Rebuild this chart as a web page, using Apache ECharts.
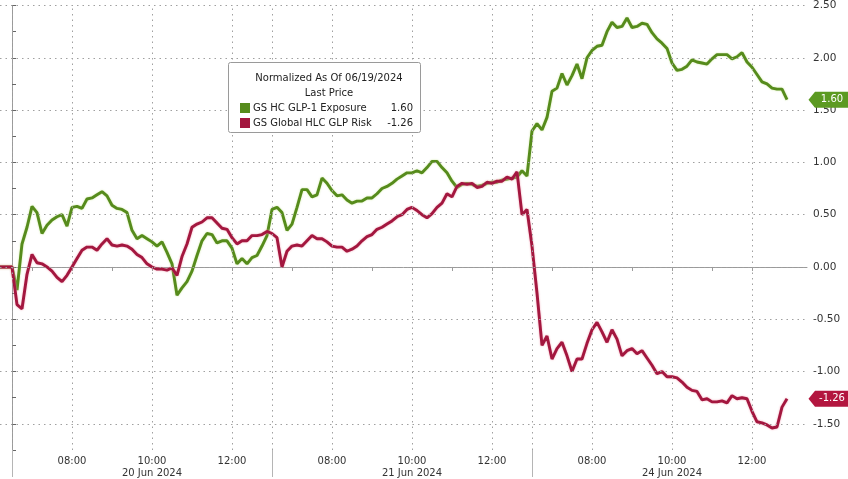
<!DOCTYPE html>
<html><head><meta charset="utf-8">
<script src="https://cdn.jsdelivr.net/npm/echarts@6/dist/echarts.min.js"></script>
<style>html,body{margin:0;padding:0;background:#fff}#c{width:848px;height:479px}</style>
</head><body><div id="c"></div>
<script>
// ---- data (7.5-minute samples from each session open) ----
const dayLabels = ['20 Jun 2024', '21 Jun 2024', '24 Jun 2024'];
const timeLabels = ['08:00', '10:00', '12:00'];
const timeOffsets = [1.5, 3.5, 5.5];          // hours after 06:30 open
const sessionHours = 6.5;
const stepHours = 0.125;
const seriesNames = ['GS HC GLP-1 Exposure', 'GS Global HLC GLP Risk'];
const lastPrices = [1.60, -1.26];

const greenPre = [0, 0, 0];
const greenDay1 = [0, -0.22, 0.22, 0.38, 0.58, 0.52, 0.32, 0.40, 0.45, 0.48,
  0.50, 0.39, 0.57, 0.58, 0.56, 0.65, 0.66, 0.69, 0.72, 0.68,
  0.59, 0.56, 0.55, 0.52, 0.35, 0.27, 0.30, 0.27, 0.24, 0.20,
  0.24, 0.14, 0.03, -0.27, -0.20, -0.14, -0.04, 0.11, 0.25, 0.32,
  0.31, 0.23, 0.25, 0.25, 0.18, 0.03, 0.08, 0.03, 0.09, 0.11,
  0.20, 0.30];
const greenDay2 = [0.55, 0.57, 0.52, 0.35, 0.41, 0.57, 0.74, 0.74, 0.67, 0.69,
  0.85, 0.80, 0.73, 0.68, 0.69, 0.64, 0.61, 0.63, 0.63, 0.66,
  0.66, 0.70, 0.75, 0.77, 0.80, 0.84, 0.87, 0.90, 0.90, 0.92,
  0.90, 0.95, 1.01, 1.01, 0.95, 0.90, 0.82, 0.76, 0.79, 0.80,
  0.79, 0.77, 0.78, 0.80, 0.81, 0.81, 0.83, 0.84, 0.85, 0.86,
  0.92, 0.87];
const greenDay3 = [1.30, 1.37, 1.31, 1.43, 1.68, 1.71, 1.85, 1.74, 1.83, 1.94,
  1.80, 2.00, 2.07, 2.11, 2.12, 2.25, 2.34, 2.29, 2.30, 2.38,
  2.29, 2.30, 2.33, 2.32, 2.24, 2.18, 2.14, 2.09, 1.95, 1.88,
  1.89, 1.92, 1.98, 1.96, 1.95, 1.94, 1.99, 2.03, 2.03, 2.03,
  1.99, 2.01, 2.05, 1.96, 1.91, 1.84, 1.77, 1.75, 1.71, 1.70,
  1.70, 1.60];

const redPre = [0, 0, 0];
const redDay1 = [0, -0.36, -0.40, -0.07, 0.12, 0.04, 0.03, 0.00, -0.04, -0.10,
  -0.14, -0.08, 0.00, 0.08, 0.16, 0.19, 0.19, 0.16, 0.22, 0.27,
  0.21, 0.20, 0.21, 0.20, 0.17, 0.12, 0.09, 0.03, 0.00, -0.02,
  -0.02, -0.03, -0.01, -0.08, 0.10, 0.22, 0.38, 0.41, 0.43, 0.47,
  0.47, 0.42, 0.37, 0.36, 0.28, 0.22, 0.25, 0.25, 0.30, 0.30,
  0.31, 0.34];
const redDay2 = [0.32, 0.28, 0.00, 0.15, 0.20, 0.21, 0.20, 0.25, 0.30, 0.27,
  0.27, 0.24, 0.20, 0.19, 0.19, 0.15, 0.17, 0.20, 0.25, 0.29,
  0.31, 0.36, 0.38, 0.41, 0.44, 0.48, 0.50, 0.55, 0.57, 0.54,
  0.50, 0.47, 0.51, 0.57, 0.61, 0.70, 0.67, 0.77, 0.80, 0.79,
  0.80, 0.76, 0.77, 0.81, 0.80, 0.82, 0.82, 0.86, 0.84, 0.91,
  0.50, 0.55];
const redDay3 = [0.20, -0.25, -0.75, -0.66, -0.88, -0.78, -0.72, -0.85, -1.00, -0.88,
  -0.88, -0.73, -0.60, -0.53, -0.62, -0.72, -0.60, -0.69, -0.85, -0.80,
  -0.78, -0.83, -0.80, -0.87, -0.94, -1.02, -1.00, -1.05, -1.05, -1.06,
  -1.10, -1.15, -1.18, -1.19, -1.27, -1.26, -1.29, -1.29, -1.28, -1.30,
  -1.23, -1.26, -1.25, -1.26, -1.38, -1.48, -1.49, -1.51, -1.54, -1.53,
  -1.34, -1.26];

const yGridValues = [-1.5, -1.0, -0.5, 0, 0.5, 1.0, 1.5, 2.0, 2.5];

// ---- build ----
function build(pre, days) {
  const out = [];
  pre.forEach((v, i) => out.push([(i - pre.length) * stepHours, v]));
  days.forEach((arr, d) => arr.forEach((v, i) => out.push([d * sessionHours + i * stepHours, v])));
  return out;
}
const greenData = build(greenPre, [greenDay1, greenDay2, greenDay3]);
const redData = build(redPre, [redDay1, redDay2, redDay3]);

const dayOpens = dayLabels.map((_, d) => d * sessionHours);
const labelHours = [];
const labelText = {};
dayOpens.forEach((o, d) => timeOffsets.forEach((t, k) => {
  const h = o + t; labelHours.push(h);
  labelText[h.toFixed(3)] = timeLabels[k] + (k === 1 ? '\n' + dayLabels[d] : '');
}));
const tickHours = [];
dayOpens.forEach(o => { for (let h = 0.5; h < sessionHours; h += 1) tickHours.push(o + h); });
const vGrid = dayOpens.concat(labelHours);

const GREEN = '#568b1c', RED = '#a3173f';
const FONT = 'DejaVu Sans';
const dotted = { type: [1.5, 4], color: '#a0a0a0', width: 1 };

function tag(data, color, idx) {
  const last = data[data.length - 1];
  return {
    silent: true,
    symbol: 'path://M0,8 L7,0 L44,0 L44,16 L7,16 Z',
    symbolSize: [41, 16],
    symbolOffset: [42, 0],
    itemStyle: { color: color },
    label: { show: true, position: 'inside', offset: [3, 0], color: '#fff', fontFamily: FONT, fontSize: 10,
      formatter: () => lastPrices[idx].toFixed(2) },
    data: [{ coord: last }]
  };
}

const chart = echarts.init(document.getElementById('c'), null, { renderer: 'canvas' });
chart.setOption({
  animation: false,
  backgroundColor: '#fff',
  grid: { left: 0, right: 41, top: 5, bottom: 27, containLabel: false },
  title: {
    text: 'Normalized As Of 06/19/2024\nLast Price',
    left: 324, top: 66, textAlign: 'center', z: 8,
    textStyle: { fontFamily: FONT, fontSize: 10, fontWeight: 'normal', color: '#222', lineHeight: 15 }
  },
  legend: {
    orient: 'vertical', left: 235, top: 98, itemWidth: 10, itemHeight: 10, itemGap: 5, z: 8,
    icon: 'rect', selectedMode: false,
    data: seriesNames,
    formatter: name => {
      const i = seriesNames.indexOf(name);
      return '{n|' + name + '}{v|' + lastPrices[i].toFixed(2) + '}';
    },
    textStyle: {
      fontFamily: FONT, fontSize: 10, color: '#222', padding: [0, 0, 0, -2],
      rich: { n: { fontFamily: FONT, fontSize: 10, width: 134 }, v: { fontFamily: FONT, fontSize: 10, width: 26, align: 'right' } }
    }
  },
  graphic: [{
    type: 'rect', z: 7, left: 228, top: 62,
    shape: { width: 192, height: 70, r: 2 },
    style: { fill: '#fff', stroke: '#9a9a9a', lineWidth: 1 }
  }],
  xAxis: [{
    type: 'value', min: -0.3, max: 19.875,
    axisLine: { show: true, lineStyle: { color: '#9a9a9a' } },
    axisTick: { show: true, customValues: tickHours, length: 4, lineStyle: { color: '#9a9a9a' } },
    axisLabel: {
      show: true, customValues: labelHours, margin: 5,
      fontFamily: FONT, fontSize: 10, color: '#333', lineHeight: 12,
      formatter: v => labelText[Number(v).toFixed(3)] || ''
    },
    splitLine: { show: false }
  }, {
    type: 'value', min: -0.3, max: 19.875, position: 'bottom',
    axisLine: { show: false },
    axisTick: { show: true, customValues: dayOpens, length: 27, lineStyle: { color: '#b5b5b5' } },
    axisLabel: { show: false },
    splitLine: { show: false }
  }],
  yAxis: {
    type: 'value', position: 'right', min: -1.75, max: 2.5, interval: 0.25,
    axisLine: { show: true, lineStyle: { color: '#9a9a9a' } },
    axisTick: { show: true, length: 4, lineStyle: { color: '#666' } },
    axisLabel: {
      fontFamily: FONT, fontSize: 10.5, color: '#333', margin: 6,
      formatter: v => (Math.abs(v * 2 - Math.round(v * 2)) < 1e-6) ? v.toFixed(2) : ''
    },
    splitLine: { show: false }
  },
  series: [{
    name: 'grid', type: 'line', data: [], silent: true,
    markLine: {
      silent: true, symbol: 'none', label: { show: false }, lineStyle: dotted,
      data: yGridValues.map(v => ({ yAxis: v })).concat(vGrid.map(h => ({ xAxis: h })))
    }
  }, {
    name: seriesNames[0], type: 'line', data: greenData, showSymbol: false, z: 3,
    lineStyle: { color: GREEN, width: 2.9, shadowColor: 'rgba(200,230,150,0.9)', shadowBlur: 2 },
    itemStyle: { color: GREEN },
    markPoint: tag(greenData, '#5c9a22', 0)
  }, {
    name: seriesNames[1], type: 'line', data: redData, showSymbol: false, z: 4,
    lineStyle: { color: RED, width: 2.9, shadowColor: 'rgba(240,150,170,0.9)', shadowBlur: 2 },
    itemStyle: { color: RED },
    markPoint: tag(redData, '#b3163f', 1)
  }]
});
</script></body></html>
